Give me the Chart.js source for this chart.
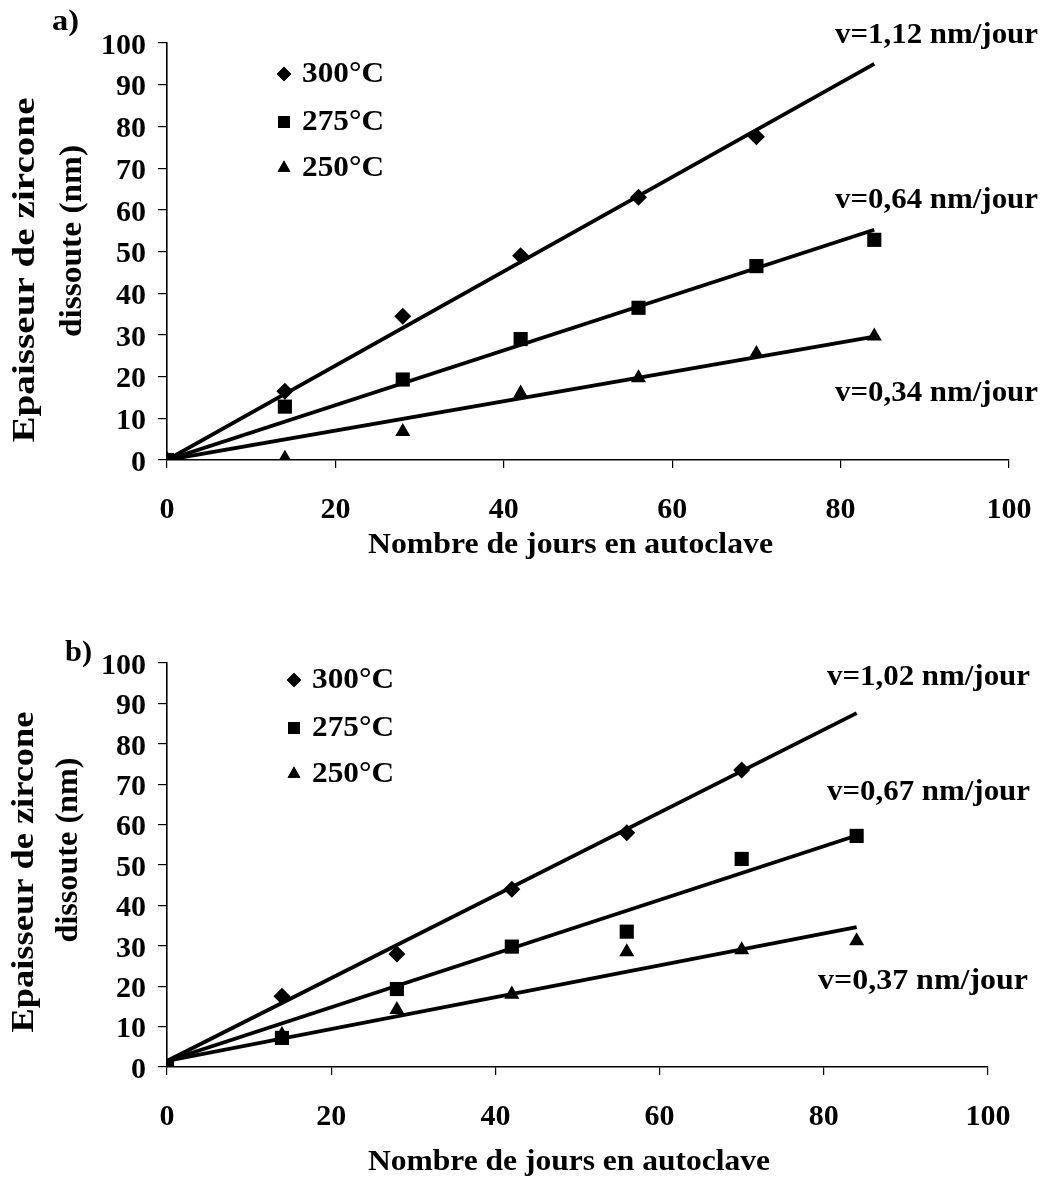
<!DOCTYPE html>
<html><head><meta charset="utf-8">
<script src="https://cdn.jsdelivr.net/npm/chart.js@4.4.1/dist/chart.umd.min.js"></script>
<style>
html,body{margin:0;padding:0;background:#fff;width:1046px;height:1177px;overflow:hidden}
canvas{position:absolute;left:0;display:block}
#ca{top:0}
#cb{top:590px}
</style></head><body>
<canvas id="ca" width="1046" height="590"></canvas>
<canvas id="cb" width="1046" height="587"></canvas>
<script>
// ---------- data ----------
const xTicks = [0,20,40,60,80,100];
const yTicks = [0,10,20,30,40,50,60,70,80,90,100];
const seriesNames = ['300°C','275°C','250°C'];
const yTitle = ['Epaisseur de zircone','dissoute (nm)'];
const xTitle = 'Nombre de jours en autoclave';

// panel a)
const aDays300 = [0,14,28,42,56,70];
const a300 = [0,16.5,34.5,49,63,77.5];
const aDays275 = [0,14,28,42,56,70,84];
const a275 = [0,12.8,19.3,29,36.5,46.5,52.8];
const aDays250 = [0,14,28,42,56,70,84];
const a250 = [0,0.4,6.8,16,19.7,25.5,29.7];
const aTrendX = [0,84];
const aTrend300 = [0,95];
const aTrend275 = [0,55.2];
const aTrend250 = [0,29.6];
const aRates = ['v=1,12 nm/jour','v=0,64 nm/jour','v=0,34 nm/jour'];

// panel b)
const bDays300 = [0,14,28,42,56,70];
const b300 = [0,17.5,28,44,58,73.5];
const bDays275 = [0,14,28,42,56,70,84];
const b275 = [0,7.2,19.3,29.8,33.5,51.5,57.2];
const bDays250 = [0,14,28,42,56,70,84];
const b250 = [0,8,14.2,18,28.5,29,31.2];
const bTrendX = [0,84];
const bTrend300 = [1.5,87.6];
const bTrend275 = [1.5,57.3];
const bTrend250 = [1.5,34.6];
const bRates = ['v=1,02 nm/jour','v=0,67 nm/jour','v=0,37 nm/jour'];

// ---------- drawing ----------
const FONT = "'Liberation Serif','Times New Roman',serif";
const styles = [
  {style:'rectRot', r:8.5},
  {style:'rect', r:10},
  {style:'triangle', r:8.7}
];

function pts(xs, ys){ return xs.map((x,i)=>({x:x, y:ys[i]})); }

function fitText(ctx, text, x, y, w, size, align){
  ctx.save();
  ctx.font = 'bold ' + size + 'px ' + FONT;
  const nat = ctx.measureText(text).width;
  const sx = w ? w / nat : 1;
  ctx.translate(x, y);
  ctx.scale(sx, 1);
  ctx.textAlign = align || 'left';
  ctx.textBaseline = 'middle';
  ctx.fillStyle = '#000';
  ctx.fillText(text, 0, 0);
  ctx.restore();
}
function vText(ctx, text, cx, cy, len, size){
  ctx.save();
  ctx.font = 'bold ' + size + 'px ' + FONT;
  const nat = ctx.measureText(text).width;
  ctx.translate(cx, cy);
  ctx.rotate(-Math.PI/2);
  ctx.scale(len/nat, 1);
  ctx.textAlign = 'center';
  ctx.textBaseline = 'middle';
  ctx.fillStyle = '#000';
  ctx.fillText(text, 0, 0);
  ctx.restore();
}

function build(id, H, area, series, trendX, trends, deco){
  const datasets = [];
  trends.forEach(t => datasets.push({
    type:'line', data: pts(trendX, t), borderColor:'#000', borderWidth:3.8,
    pointRadius:0, fill:false, tension:0, order:2
  }));
  series.forEach((s,i) => datasets.push({
    type:'scatter', data: pts(s.x, s.y), pointStyle: styles[i].style,
    pointRadius: styles[i].r, pointHoverRadius: styles[i].r,
    backgroundColor:'#000', borderColor:'#000', borderWidth:0, showLine:false, order:1
  }));
  const tickFont = {family: FONT, size: 30, weight: 'bold'};
  new Chart(document.getElementById(id), {
    type:'scatter',
    data:{datasets},
    options:{
      responsive:false, animation:false, devicePixelRatio:1,
      layout:{autoPadding:false, padding:{left:0, top:area.top, right:1046-area.right, bottom:H-area.bottom-area.xh}},
      plugins:{legend:{display:false}, tooltip:{enabled:false}},
      scales:{
        x:{type:'linear', min:0, max:100,
           afterBuildTicks: sc => { sc.ticks = xTicks.map(v=>({value:v})); },
           ticks:{font:tickFont, color:'#000', padding:area.xpad, maxRotation:0, autoSkip:false},
           grid:{drawOnChartArea:false, drawTicks:true, tickLength:8, color:'#000', lineWidth:1.2},
           border:{color:'#000', width:1.6},
           afterFit: sc => { sc.height = area.xh; sc.paddingLeft = 0; sc.paddingRight = 0; }},
        y:{type:'linear', min:0, max:100,
           afterBuildTicks: sc => { sc.ticks = yTicks.map(v=>({value:v})); },
           ticks:{font:tickFont, color:'#000', padding:12, labelOffset:3, autoSkip:false},
           grid:{drawOnChartArea:false, drawTicks:true, tickLength:9, color:'#000', lineWidth:1.2},
           border:{color:'#000', width:1.6},
           afterFit: sc => { sc.width = area.left; sc.paddingTop = 0; sc.paddingBottom = 0; }}
      }
    },
    plugins:[{id:'deco', afterDraw: c => deco(c.ctx)}]
  });
}

function legend(ctx, mx, tx, ys){
  seriesNames.forEach((n,i)=>{
    Chart.helpers.drawPoint(ctx, {pointStyle: styles[i].style, radius: styles[i].r*0.85, borderWidth:0}, mx, ys[i]);
    ctx.fillStyle = '#000';
    ctx.fill();
    fitText(ctx, n, tx, ys[i], 82, 30);
  });
}

// panel a
build('ca', 590, {left:167, right:1009, top:43, bottom:460, xh:72, xpad:24},
  [{x:aDays300, y:a300},{x:aDays275, y:a275},{x:aDays250, y:a250}],
  aTrendX, [aTrend300, aTrend275, aTrend250],
  ctx => {
    ctx.save(); ctx.fillStyle = '#000';
    fitText(ctx, 'a)', 52, 22, 27, 30);
    legend(ctx, 284, 302, [74,122,168]);
    fitText(ctx, aRates[0], 835, 35, 203, 30);
    fitText(ctx, aRates[1], 835, 200, 203, 30);
    fitText(ctx, aRates[2], 835, 393, 203, 30);
    vText(ctx, yTitle[0], 26, 270, 345, 31);
    vText(ctx, yTitle[1], 73, 241, 192, 31);
    fitText(ctx, xTitle, 368, 545, 405, 30);
    ctx.restore();
  });

// panel b (canvas top at 590)
build('cb', 587, {left:167, right:988, top:73, bottom:477, xh:72, xpad:24},
  [{x:bDays300, y:b300},{x:bDays275, y:b275},{x:bDays250, y:b250}],
  bTrendX, [bTrend300, bTrend275, bTrend250],
  ctx => {
    ctx.save(); ctx.fillStyle = '#000';
    fitText(ctx, 'b)', 65, 63, 27, 30);
    legend(ctx, 294, 312, [90,138,184]);
    fitText(ctx, bRates[0], 827, 87, 203, 30);
    fitText(ctx, bRates[1], 827, 202, 203, 30);
    fitText(ctx, bRates[2], 818, 391, 210, 30);
    vText(ctx, yTitle[0], 25, 282, 321, 31);
    vText(ctx, yTitle[1], 69, 260, 185, 31);
    fitText(ctx, xTitle, 368, 572, 402, 30);
    ctx.restore();
  });
</script>
</body></html>
